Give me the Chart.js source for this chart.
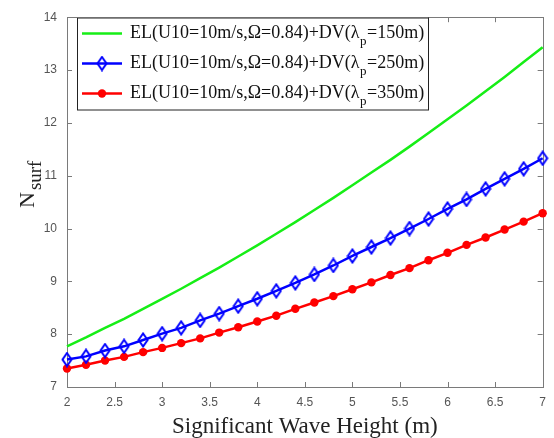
<!DOCTYPE html>
<html>
<head>
<meta charset="utf-8">
<script src="https://cdn.jsdelivr.net/npm/chart.js@4.4.1/dist/chart.umd.min.js"></script>
<style>
html,body{margin:0;padding:0;background:#fff;}
#wrap{width:554px;height:438px;position:relative;}
</style>
</head>
<body>
<div id="wrap"><canvas id="c" width="554" height="438"></canvas></div>
<script>
// ---- data ----
const waveHeight = [2.0,2.2,2.4,2.6,2.8,3.0,3.2,3.4,3.6,3.8,4.0,4.2,4.4,4.6,4.8,5.0,5.2,5.4,5.6,5.8,6.0,6.2,6.4,6.6,6.8,7.0];
const nsurf150 = [7.77,7.94,8.12,8.29,8.48,8.67,8.86,9.06,9.26,9.47,9.68,9.90,10.12,10.35,10.58,10.82,11.06,11.30,11.55,11.81,12.07,12.33,12.60,12.87,13.15,13.43];
const nsurf250 = [7.52,7.58,7.69,7.77,7.89,8.01,8.12,8.26,8.39,8.53,8.67,8.82,8.97,9.13,9.30,9.48,9.65,9.82,10.00,10.18,10.37,10.55,10.75,10.94,11.13,11.33];
const nsurf350 = [7.35,7.42,7.50,7.57,7.66,7.74,7.83,7.92,8.03,8.13,8.24,8.35,8.48,8.60,8.72,8.85,8.98,9.12,9.25,9.40,9.54,9.69,9.83,9.98,10.13,10.29];
const legendMain = "EL(U10=10m/s,\u03A9=0.84)+DV(\u03BB";
const legendSub = "p";
const legendTails = ["=150m)", "=250m)", "=350m)"];
const xTitle = "Significant Wave Height (m)";
const yTitleMain = "N";
const yTitleSub = "surf";

const GREEN = '#16ee16', BLUE = '#0000ff', RED = '#ff0000';

// hollow diamond marker
function makeDiamond(color){
  const c = document.createElement('canvas');
  c.width = 12; c.height = 16;
  const g = c.getContext('2d');
  g.strokeStyle = color; g.lineWidth = 2;
  g.beginPath();
  g.moveTo(6,1.5); g.lineTo(10.5,8); g.lineTo(6,14.5); g.lineTo(1.5,8); g.closePath();
  g.stroke();
  return c;
}
const diamond = makeDiamond(BLUE);

function pts(ys){ return waveHeight.map((x,i)=>({x:x,y:ys[i]})); }

const decor = {
  id:'decor',
  beforeDatasetsDraw(chart){
    const {ctx, chartArea:a, scales} = chart;
    ctx.save();
    ctx.strokeStyle = '#7a7a7a'; ctx.lineWidth = 1;
    ctx.strokeRect(Math.round(a.left)+0.5, Math.round(a.top)+0.5, Math.round(a.right-a.left), Math.round(a.bottom-a.top));
    const tl = 5;
    ctx.beginPath();
    scales.x.ticks.forEach(t=>{
      const px = Math.round(scales.x.getPixelForValue(t.value))+0.5;
      ctx.moveTo(px,a.bottom); ctx.lineTo(px,a.bottom-tl);
      ctx.moveTo(px,a.top); ctx.lineTo(px,a.top+tl);
    });
    scales.y.ticks.forEach(t=>{
      const py = Math.round(scales.y.getPixelForValue(t.value))+0.5;
      ctx.moveTo(a.left,py); ctx.lineTo(a.left+tl,py);
      ctx.moveTo(a.right,py); ctx.lineTo(a.right-tl,py);
    });
    ctx.stroke();
    ctx.restore();
  },
  afterDraw(chart){
    const {ctx, chartArea:a} = chart;
    ctx.save();
    // x title
    ctx.fillStyle = '#222';
    ctx.font = '23px "Liberation Serif", "Times New Roman", serif';
    ctx.textAlign = 'center'; ctx.textBaseline = 'alphabetic';
    ctx.fillText(xTitle, (a.left+a.right)/2, 433);
    // y title with subscript, rotated
    ctx.save();
    ctx.translate(34, 208);
    ctx.rotate(-Math.PI/2);
    ctx.textAlign = 'left';
    ctx.font = '22px "Liberation Serif", "Times New Roman", serif';
    ctx.fillText(yTitleMain, 0, 0);
    const nW = ctx.measureText(yTitleMain).width;
    ctx.font = '19px "Liberation Serif", "Times New Roman", serif';
    ctx.fillText(yTitleSub, nW+2, 7);
    ctx.restore();
    // legend
    const lx = 77, ly = 17.5, lw = 351, lh = 92;
    ctx.fillStyle = '#fff';
    ctx.fillRect(lx, ly, lw, lh);
    ctx.strokeStyle = '#222'; ctx.lineWidth = 1;
    ctx.strokeRect(lx+0.5, ly+0.5, lw, lh);
    const rows = [
      {c:GREEN, m:null},
      {c:BLUE, m:'d'},
      {c:RED, m:'o'}
    ];
    rows.forEach((r,i)=>{
      const y = 33.5 + i*30;
      ctx.strokeStyle = r.c; ctx.lineWidth = 2.5;
      ctx.beginPath(); ctx.moveTo(82,y); ctx.lineTo(122,y); ctx.stroke();
      if(r.m==='d'){ ctx.drawImage(diamond, 102-6, y-8); }
      if(r.m==='o'){ ctx.fillStyle = r.c; ctx.beginPath(); ctx.arc(102,y,4.2,0,Math.PI*2); ctx.fill(); }
      ctx.fillStyle = '#111';
      ctx.textAlign = 'left';
      ctx.font = '18px "Liberation Serif", "Times New Roman", serif';
      let x = 130;
      const base = y + 4.5;
      ctx.fillText(legendMain, x, base);
      x += ctx.measureText(legendMain).width + 0.5;
      ctx.font = '13px "Liberation Serif", "Times New Roman", serif';
      ctx.fillText(legendSub, x, base + 7);
      x += ctx.measureText(legendSub).width + 0.5;
      ctx.font = '18px "Liberation Serif", "Times New Roman", serif';
      ctx.fillText(legendTails[i], x, base);
    });
    ctx.restore();
  }
};

new Chart(document.getElementById('c'), {
  type:'line',
  data:{
    datasets:[
      {data:pts(nsurf150), borderColor:GREEN, borderWidth:2.5, pointRadius:0, tension:0, clip:false},
      {data:pts(nsurf250), borderColor:BLUE, borderWidth:2.5, pointStyle:diamond, pointRadius:6, tension:0, clip:false},
      {data:pts(nsurf350), borderColor:RED, backgroundColor:RED, borderWidth:2.5, pointStyle:'circle', pointRadius:4.2, pointBorderWidth:0, tension:0, clip:false}
    ]
  },
  options:{
    responsive:false, animation:false,
    layout:{padding:{top:9, right:6, left:0, bottom:0}},
    plugins:{legend:{display:false}, tooltip:{enabled:false}},
    scales:{
      x:{
        type:'linear', min:2, max:7,
        border:{display:false},
        grid:{display:false, drawTicks:false},
        ticks:{stepSize:0.5, padding:8, color:'#555', maxRotation:0, autoSkip:false,
          callback:(v)=>String(Math.round(v*10)/10),
          font:{family:'"Liberation Sans", Arial, sans-serif', size:12}},
        afterFit(s){ s.height = 51; }
      },
      y:{
        min:7, max:14,
        border:{display:false},
        grid:{display:false, drawTicks:false},
        ticks:{stepSize:1, padding:10, color:'#555',
          callback:(v)=>String(v),
          font:{family:'"Liberation Sans", Arial, sans-serif', size:12}},
        afterFit(s){ s.width = 67; }
      }
    }
  },
  plugins:[decor]
});
</script>
</body>
</html>
